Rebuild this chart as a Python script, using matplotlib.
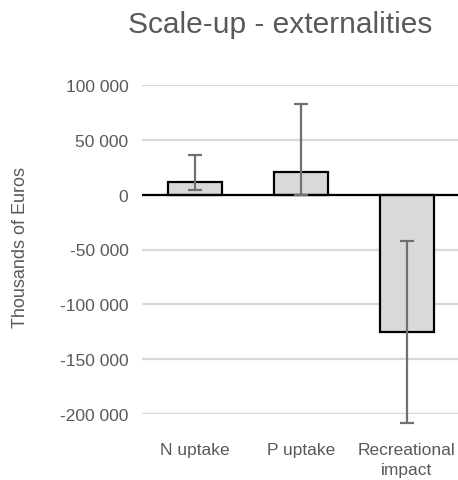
import matplotlib
matplotlib.use("Agg")
import matplotlib.pyplot as plt
from matplotlib.ticker import FuncFormatter

categories = ["N uptake", "P uptake", "Recreational\nimpact"]
values = [12000, 21000, -125000]
err_low = [4300, 0, -208000]
err_high = [36500, 82500, -42000]
yticks = [100000, 50000, 0, -50000, -100000, -150000, -200000]

plt.rcParams['font.family'] = ['Liberation Sans', 'DejaVu Sans']
W, H = 458, 481
fig = plt.figure(figsize=(W/100, H/100), dpi=100)
ax = fig.add_axes([141.6/W, 1-415/H, (460-141.6)/W, (415-86)/H])

x = list(range(len(categories)))
lower = [v - l for v, l in zip(values, err_low)]
upper = [h - v for v, h in zip(values, err_high)]
ax.bar(x, values, width=0.51, color='#d9d9d9', edgecolor='black', linewidth=1.6, zorder=2)
eb = ax.errorbar(x, values, yerr=[lower, upper], fmt='none', ecolor='#707070',
                 elinewidth=1.6, capsize=5, capthick=1.6, zorder=4)
for art in eb.lines[1] + eb.lines[2]:
    art.set_clip_on(False)
ax.axhline(0, color='black', linewidth=1.6, zorder=3)

ax.set_xlim(-0.5, len(categories) - 0.5)
ax.set_ylim(-200000, 100000)
ax.set_yticks(yticks)
ax.yaxis.set_major_formatter(FuncFormatter(lambda v, p: f"{int(v):,}".replace(",", " ")))
ax.grid(axis='y', color='#d9d9d9', linewidth=1.6, zorder=0)
ax.set_axisbelow(True)
for s in ax.spines.values():
    s.set_visible(False)
ax.set_xticks(x)
ax.set_xticklabels(categories, fontsize=12.5, color='#595959', linespacing=1.45)
ax.tick_params(axis='x', length=0, pad=20)
ax.tick_params(axis='y', length=0, pad=9.5, labelsize=12.5, labelcolor='#595959')

fig.text(21/W, 1-247/H, "Thousands of Euros", rotation=90, ha='center', va='center',
         fontsize=13, color='#595959')
fig.text(280/W, 1-25/H, "Scale-up - externalities", ha='center', va='center',
         fontsize=21.5, color='#595959')

fig.savefig("out.png", dpi=100)
